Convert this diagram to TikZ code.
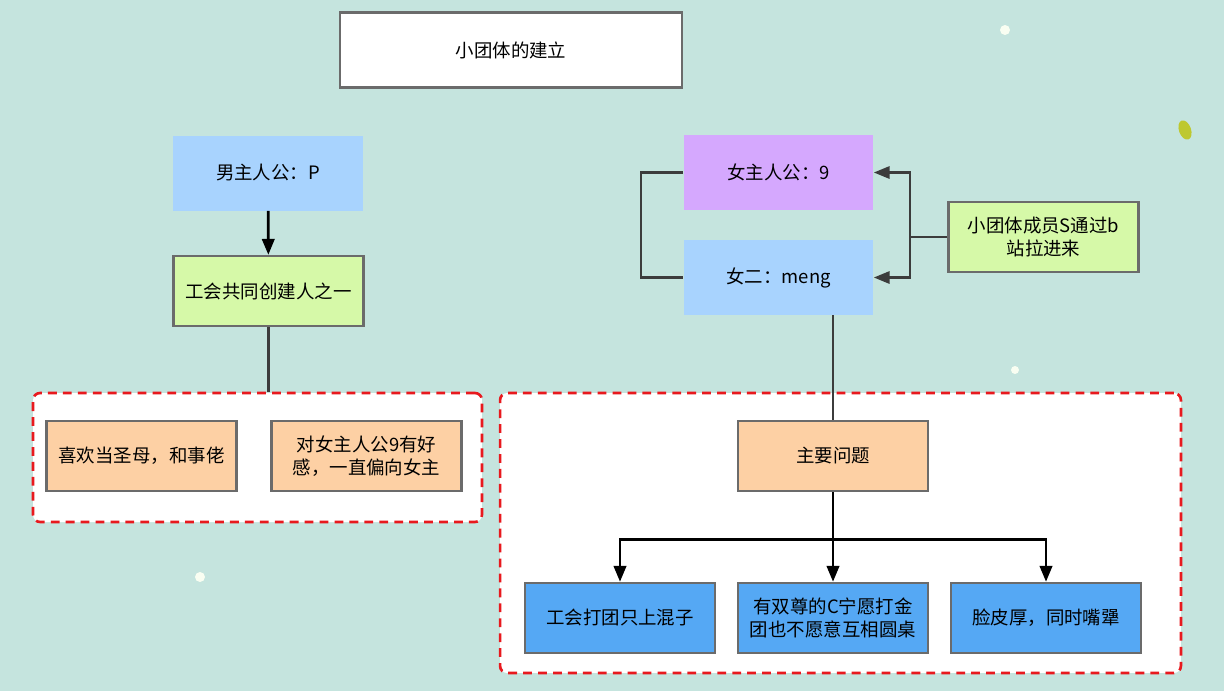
\documentclass[tikz,border=0pt]{standalone}
\usepackage{fontspec}
\setmainfont{Noto Sans CJK SC}
\usetikzlibrary{arrows.meta}
\definecolor{bgteal}{HTML}{C5E4DE}
\definecolor{lightblue}{HTML}{A8D3FE}
\definecolor{lilac}{HTML}{D5A8FE}
\definecolor{lime}{HTML}{D6F9A8}
\definecolor{peach}{HTML}{FDD0A4}
\definecolor{midblue}{HTML}{55A8F4}
\definecolor{boxgray}{HTML}{6B6B6B}
\definecolor{linegray}{HTML}{3C3C3C}
\definecolor{dashred}{HTML}{E8191E}

\begin{document}
\begin{tikzpicture}[x=0.02cm,y=-0.02cm,
    >={Triangle[length=9pt,width=7pt]},
    every node/.style={font=\fontsize{10.5}{13.5}\selectfont, align=center},
    box/.style={draw=boxgray, line width=1.4pt, minimum width=3.8cm, minimum height=1.4cm},
    flatbox/.style={minimum width=3.8cm, minimum height=1.5cm},
    groupbox/.style={draw=dashred, fill=white, line width=1.5pt, dash pattern=on 5pt off 3.5pt, rounded corners=4pt},
    link/.style={draw=linegray, line width=1.3pt},
    bold/.style={draw=black, line width=1.6pt}]

    % background
    \fill[bgteal] (0,0) rectangle (1224,691);
    \fill[white!85!lime] (1005,30) circle (5);
    \fill[white!85!lime] (1015,370) circle (4);
    \fill[white!85!lime] (200,577) circle (5);
    \fill[lime!40!olive!70!yellow, rotate around={20:(1185,130)}] (1185,130) ellipse (6 and 10);

    \node[box, fill=white, minimum width=6.84cm, minimum height=1.5cm] (0) at (511,50) {小团体的建立};

    % left side
    \node[flatbox, fill=lightblue] (1) at (268,173) {男主人公：P};
    \node[box, fill=lime] (2) at (268.5,291) {工会共同创建人之一};
    \node[groupbox, minimum width=8.98cm, minimum height=2.58cm] (g1) at (257.5,457.5) {};
    \node[box, fill=peach] (3) at (141.5,456) {喜欢当圣母，和事佬};
    \node[box, fill=peach] (4) at (366.5,456) {对女主人公9有好\\感，一直偏向女主};

    \draw [bold, ->] (1) -- (2);
    \draw [link] (2.south) -- (2.south |- g1.north);

    % right side
    \node[flatbox, fill=lilac] (5) at (778.5,172.5) {女主人公：9};
    \node[flatbox, fill=lightblue] (6) at (778.5,277.5) {女二：meng};
    \node[box, fill=lime] (7) at (1043.5,237) {小团体成员S通过b\\站拉进来};

    \draw [link] (5.west) -- ++(-42,0) |- (6.west);
    \draw [link] (7.west) -- ++(-37,0) coordinate (j);
    \draw [link, ->] (j) |- (5.east);
    \draw [link, ->] (j) |- (6.east);

    \node[groupbox, minimum width=13.62cm, minimum height=5.6cm] (g2) at (840.5,533) {};
    \node[box, fill=peach] (8) at (833,456) {主要问题};
    \draw [link] (8.north) -- (8.north |- 6.south);

    \node[box, fill=midblue] (9) at (620,618) {工会打团只上混子};
    \node[box, fill=midblue] (10) at (833,618) {有双尊的C宁愿打金\\团也不愿意互相圆桌};
    \node[box, fill=midblue] (11) at (1046,618) {脸皮厚，同时嘴犟};

    \draw [bold] (8.south) -- ++(0,47) coordinate (k);
    \draw [bold, ->] (k) -| (9.north);
    \draw [bold, ->] (k) -- (10.north);
    \draw [bold, ->] (k) -| (11.north);
\end{tikzpicture}
\end{document}
